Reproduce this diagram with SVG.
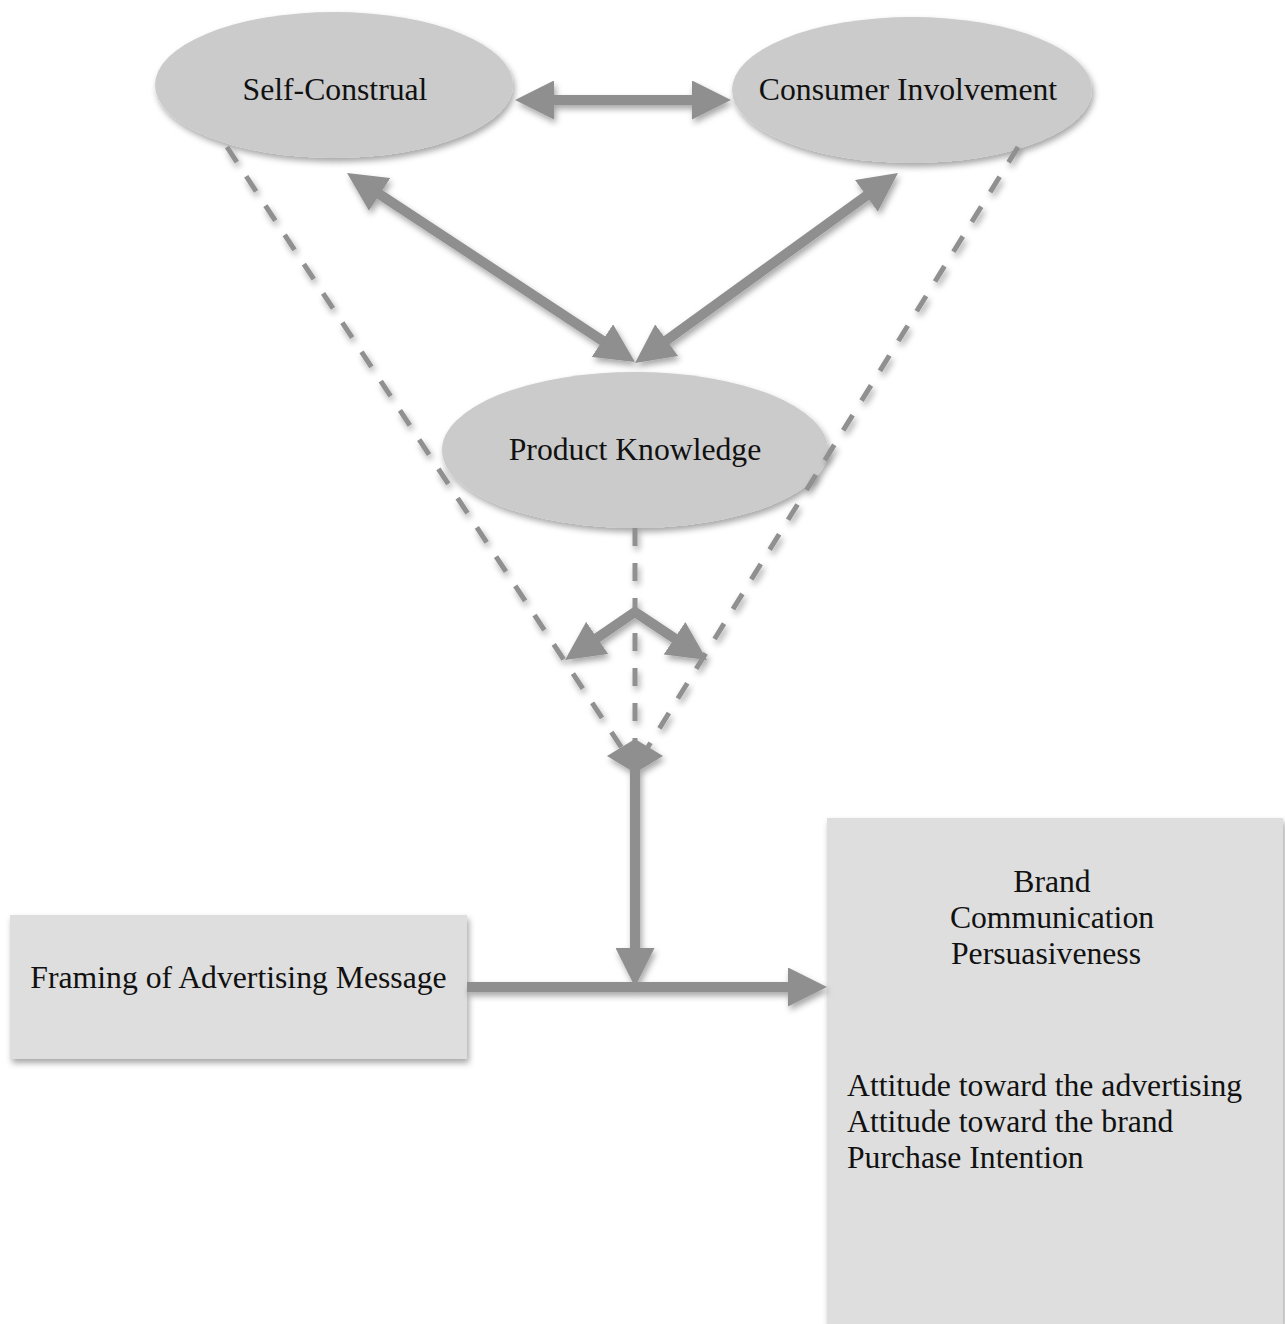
<svg xmlns="http://www.w3.org/2000/svg" width="1285" height="1324" viewBox="0 0 1285 1324">
  <style>
    .lbl { font-family: "Liberation Serif", "Times New Roman", serif; font-size: 31.7px; fill: #111; }
    .mid { text-anchor: middle; }
    .oval { fill: #cbcbcb; filter: url(#soft); }
    .box { fill: #dedede; filter: url(#soft); }
    .arrow { fill: none; stroke: #8f8f8f; stroke-width: 10; }
    .dash { fill: none; stroke: #909090; stroke-width: 5; stroke-dasharray: 18 17; }
  </style>
  <defs>
    <filter id="soft" x="-10%" y="-10%" width="125%" height="130%">
      <feDropShadow dx="2" dy="4" stdDeviation="3" flood-color="#000" flood-opacity="0.35"/>
    </filter>
    <marker id="head" viewBox="0 0 39 39" markerUnits="userSpaceOnUse" markerWidth="39" markerHeight="39" refX="12" refY="19.5" orient="auto-start-reverse">
      <path d="M0,0 L39,19.5 L0,39 Z" fill="#8f8f8f"/>
    </marker>
  </defs>

  <g id="self-construal">
    <ellipse class="oval" cx="334" cy="85" rx="179" ry="73"/>
    <text class="lbl mid" x="335" y="100">Self-Construal</text>
  </g>

  <g id="consumer-involvement">
    <ellipse class="oval" cx="912" cy="90" rx="180" ry="73"/>
    <text class="lbl mid" x="908" y="100">Consumer Involvement</text>
  </g>

  <g id="product-knowledge">
    <ellipse class="oval" cx="635" cy="450" rx="193" ry="78"/>
    <text class="lbl mid" x="635" y="460">Product Knowledge</text>
  </g>

  <g id="framing">
    <rect class="box" x="10" y="915" width="457" height="144"/>
    <text class="lbl mid" x="238.5" y="988">Framing of Advertising Message</text>
  </g>

  <g id="persuasiveness">
    <rect class="box" x="827" y="818" width="456" height="506"/>
    <text class="lbl mid" x="1052" y="892">Brand</text>
    <text class="lbl mid" x="1052" y="928">Communication</text>
    <text class="lbl mid" x="1046" y="964">Persuasiveness</text>
    <line x1="827" y1="986" x2="1283" y2="986" stroke="#999" stroke-width="4" filter="url(#soft)"/>
    <text class="lbl" x="847" y="1096">Attitude toward the advertising</text>
    <text class="lbl" x="847" y="1132">Attitude toward the brand</text>
    <text class="lbl" x="847" y="1168">Purchase Intention</text>
  </g>

  <g id="connectors" filter="url(#soft)">
    <!-- dashed moderation paths -->
    <line class="dash" x1="227" y1="147" x2="635" y2="768"/>
    <line class="dash" x1="1018" y1="147" x2="635" y2="768"/>
    <line class="dash" x1="635" y1="528" x2="635" y2="745"/>
    <!-- links between the three moderators -->
    <line class="arrow" x1="542" y1="100" x2="704" y2="100" marker-start="url(#head)" marker-end="url(#head)"/>
    <line class="arrow" x1="369.6" y1="187.8" x2="612.4" y2="347.2" marker-start="url(#head)" marker-end="url(#head)"/>
    <line class="arrow" x1="656.9" y1="347.2" x2="876.1" y2="188.8" marker-start="url(#head)" marker-end="url(#head)"/>
    <path class="arrow" d="M587.3,644.7 L635,612 L684.5,645" marker-start="url(#head)" marker-end="url(#head)"/>
    <!-- converging heads -->
    <polygon points="607,756 635,739 663,756 635,773" fill="#8f8f8f"/>
    <!-- moderation onto the main path -->
    <line class="arrow" x1="635" y1="768" x2="635" y2="960" marker-end="url(#head)"/>
    <!-- main path -->
    <line class="arrow" x1="467" y1="987" x2="800" y2="987" marker-end="url(#head)"/>
  </g>
</svg>
